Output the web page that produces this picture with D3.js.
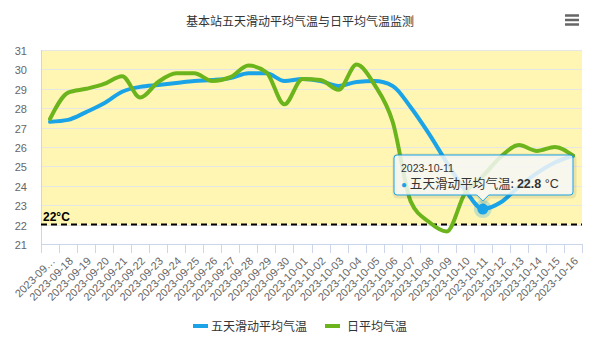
<!DOCTYPE html>
<html><head><meta charset="utf-8">
<script src="https://cdn.jsdelivr.net/npm/d3@7/dist/d3.min.js"></script>
<style>
html,body{margin:0;padding:0;background:#fff;}
svg{display:block;font-family:"Liberation Sans",Arial,"Noto Sans CJK SC",sans-serif;}
</style></head><body>
<svg id="chart" width="600" height="347"></svg>
<script>
const titleText = "基本站五天滑动平均气温与日平均气温监测";
const categories = ["2023-09-17","2023-09-18","2023-09-19","2023-09-20","2023-09-21","2023-09-22","2023-09-23","2023-09-24","2023-09-25","2023-09-26","2023-09-27","2023-09-28","2023-09-29","2023-09-30","2023-10-01","2023-10-02","2023-10-03","2023-10-04","2023-10-05","2023-10-06","2023-10-07","2023-10-08","2023-10-09","2023-10-10","2023-10-11","2023-10-12","2023-10-13","2023-10-14","2023-10-15","2023-10-16"];
const tickLabels = ["2023-09…","2023-09-18","2023-09-19","2023-09-20","2023-09-21","2023-09-22","2023-09-23","2023-09-24","2023-09-25","2023-09-26","2023-09-27","2023-09-28","2023-09-29","2023-09-30","2023-10-01","2023-10-02","2023-10-03","2023-10-04","2023-10-05","2023-10-06","2023-10-07","2023-10-08","2023-10-09","2023-10-10","2023-10-11","2023-10-12","2023-10-13","2023-10-14","2023-10-15","2023-10-16"];
const seriesNames = ["五天滑动平均气温","日平均气温"];
const avg5 = [27.3,27.4,27.8,28.25,28.85,29.1,29.2,29.3,29.4,29.45,29.55,29.8,29.8,29.4,29.5,29.4,29.15,29.35,29.4,29.15,28.05,26.7,25.2,23.8,22.8,23.15,23.95,24.65,25.2,25.55];
const daily = [27.45,28.8,29.0,29.25,29.65,28.55,29.35,29.8,29.8,29.4,29.6,30.2,29.85,28.2,29.5,29.45,28.95,30.25,29.2,27.3,23.2,22.15,21.65,23.6,24.5,25.5,26.1,25.8,26.0,25.55];
const yTicks = [21,22,23,24,25,26,27,28,29,30,31];
const thresholdValue = 22;
const thresholdLabel = "22°C";
const hoverIndex = 24;
const unit = "°C";

const colors = ["#1aa3e6","#6cb41c"];
const L=41, R=582, T=50, B=244;
const svg = d3.select("#chart");

const x = d3.scaleBand().domain(categories).range([L,R]).padding(0);
const cx = d => x(d) + x.bandwidth()/2;
const y = d3.scaleLinear().domain([21,31]).range([B,T]);

// title
svg.append("text").attr("x",300).attr("y",26).attr("text-anchor","middle")
  .style("font-size","12px").style("fill","#333").style("font-family","'Noto Sans CJK SC',sans-serif").text(titleText);
// menu icon
[15.5,20,24.5].forEach(yy=>svg.append("line").attr("x1",565).attr("x2",579).attr("y1",yy).attr("y2",yy)
  .attr("stroke","#666").attr("stroke-width",2.5));

// plot band 22-31
svg.append("rect").attr("x",L).attr("y",y(31)).attr("width",R-L).attr("height",y(thresholdValue)-y(31)).attr("fill","#fff6b3");

// grid
svg.append("g").selectAll("line").data(yTicks.filter(v=>v>21)).join("line")
  .attr("x1",L).attr("x2",R).attr("y1",d=>Math.round(y(d))+0.5).attr("y2",d=>Math.round(y(d))+0.5)
  .attr("stroke","#e6e6e6").attr("stroke-width",1);

// y axis
const yAxis = d3.axisLeft(y).tickValues(yTicks).tickSize(0).tickPadding(0);
const gy = svg.append("g").attr("transform",`translate(${L},0)`).call(yAxis);
gy.select(".domain").remove();
gy.selectAll("text").attr("x",-14).attr("dy","0.4em").style("font-size","11px").style("fill","#666").style("font-family","'Liberation Sans',Arial,sans-serif");
svg.append("line").attr("x1",L+0.5).attr("x2",L+0.5).attr("y1",T).attr("y2",B).attr("stroke","#ccd6eb");

// x axis
const xb = d3.scaleLinear().domain([0,categories.length]).range([L,R]);
const gx = svg.append("g");
gx.append("line").attr("x1",L).attr("x2",R+0.5).attr("y1",B+0.5).attr("y2",B+0.5).attr("stroke","#ccd6eb");
gx.selectAll("line.tk").data(d3.range(categories.length+1)).join("line").attr("class","tk")
  .attr("x1",d=>Math.round(xb(d))+0.5).attr("x2",d=>Math.round(xb(d))+0.5).attr("y1",B).attr("y2",B+9)
  .attr("stroke","#ccd6eb");
gx.selectAll("text").data(categories).join("text")
  .attr("transform",(d)=>`translate(${cx(d)+3},${B+15}) rotate(-45)`)
  .attr("text-anchor","end").attr("dy","0.35em")
  .style("font-size","11px").style("fill","#666")
  .text((d,i)=>tickLabels[i]);

// threshold line
svg.append("line").attr("x1",L).attr("x2",R).attr("y1",y(thresholdValue)).attr("y2",y(thresholdValue))
  .attr("stroke","#000").attr("stroke-width",2).attr("stroke-dasharray","6,4");
svg.append("text").attr("x",L+2).attr("y",y(thresholdValue)-4).style("font-size","12px").style("font-weight","bold")
  .style("fill","#000").text(thresholdLabel);

// lines
const line = d3.line().x((d,i)=>cx(categories[i])).y(d=>y(d)).curve(d3.curveMonotoneX);
[avg5,daily].forEach((s,k)=>{
  svg.append("path").datum(s).attr("d",line).attr("fill","none").attr("stroke",colors[k])
    .attr("stroke-width",4).attr("stroke-linejoin","round").attr("stroke-linecap","round");
});

// hover marker
const hx = cx(categories[hoverIndex]), hy = y(avg5[hoverIndex]);
svg.append("circle").attr("cx",hx).attr("cy",hy).attr("r",9).attr("fill",colors[0]).attr("opacity",0.25);
svg.append("circle").attr("cx",hx).attr("cy",hy).attr("r",5.5).attr("fill",colors[0]);

// tooltip
const tx0=394, tx1=573, ty0=155, ty1=195;
const tp = d3.path();
tp.moveTo(tx0+3,ty0); tp.lineTo(tx1-3,ty0); tp.quadraticCurveTo(tx1,ty0,tx1,ty0+3);
tp.lineTo(tx1,ty1-3); tp.quadraticCurveTo(tx1,ty1,tx1-3,ty1);
tp.lineTo(hx+6,ty1); tp.lineTo(hx,ty1+6); tp.lineTo(hx-6,ty1);
tp.lineTo(tx0+3,ty1); tp.quadraticCurveTo(tx0,ty1,tx0,ty1-3);
tp.lineTo(tx0,ty0+3); tp.quadraticCurveTo(tx0,ty0,tx0+3,ty0); tp.closePath();
svg.append("path").attr("d",tp.toString()).attr("fill","none").attr("stroke","#000").attr("stroke-opacity",0.08)
  .attr("stroke-width",5).attr("transform","translate(1,1)");
svg.append("path").attr("d",tp.toString()).attr("fill","rgba(247,247,247,0.85)").attr("stroke",colors[0]).attr("stroke-width",1);
svg.append("text").attr("x",401).attr("y",172).style("font-size","10.5px").style("fill","#333").text(categories[hoverIndex]);
const t2 = svg.append("text").attr("x",401).attr("y",188).style("font-size","12px").style("fill","#333");
t2.append("tspan").style("fill",colors[0]).style("font-size","10px").text("● ");
t2.append("tspan").style("font-family","'Noto Sans CJK SC',sans-serif").style("font-size","12.6px").text(seriesNames[0]+": ");
t2.append("tspan").style("font-weight","bold").style("font-size","12.5px").text(avg5[hoverIndex].toFixed(1));
t2.append("tspan").style("font-size","12.5px").text(" "+unit);

// legend
const lg = [{x:193,tx:211},{x:325,tx:347}];
seriesNames.forEach((n,k)=>{
  svg.append("line").attr("x1",lg[k].x).attr("x2",lg[k].x+15).attr("y1",326).attr("y2",326)
    .attr("stroke",colors[k]).attr("stroke-width",4);
  svg.append("text").attr("x",lg[k].tx).attr("y",330.5).style("font-size","12px").style("fill","#333")
    .style("font-family","'Noto Sans CJK SC',sans-serif").text(n);
});
</script>
</body></html>
